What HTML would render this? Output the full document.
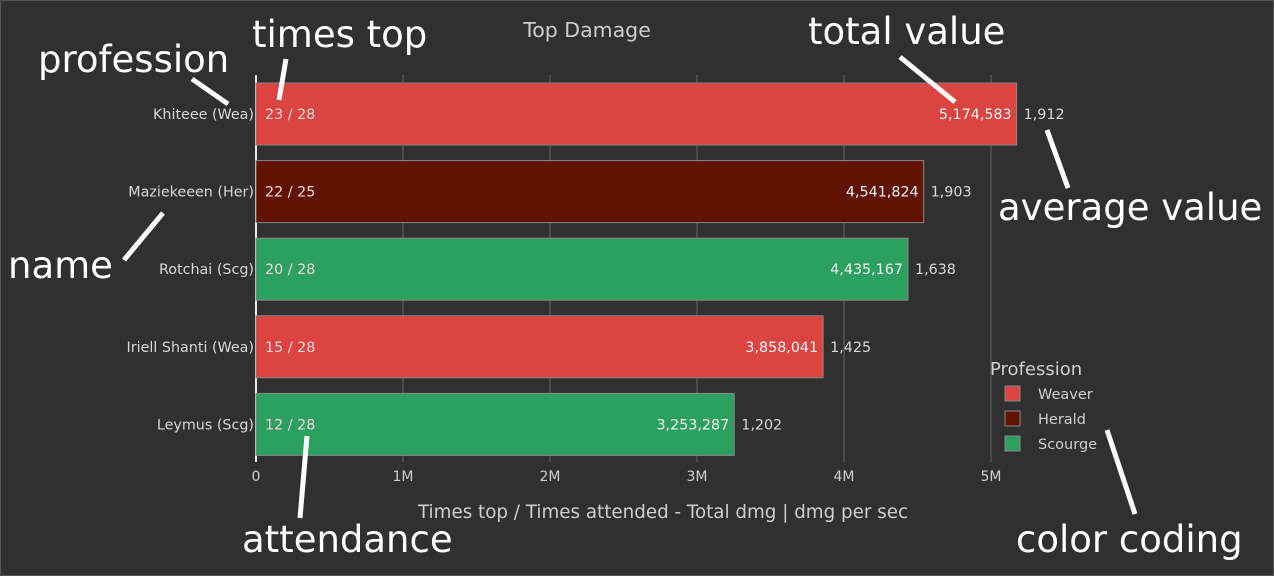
<!DOCTYPE html>
<html><head><meta charset="utf-8"><style>
html,body{margin:0;padding:0;background:#303030;}
svg{display:block;font-family:"DejaVu Sans","Liberation Sans",sans-serif;}
</style></head><body>
<svg id="c" width="1274" height="576">
<rect x="0" y="0" width="1274" height="576" fill="#303030" stroke="#555" stroke-width="2"/>
<text x="587" y="37" fill="#cfcfcf" font-size="20.5" text-anchor="middle">Top Damage</text>
<g id="grid"></g><g id="bars"></g><g id="ticks"></g>
<text x="663" y="518" fill="#cfcfcf" font-size="18.3" text-anchor="middle">Times top / Times attended - Total dmg | dmg per sec</text>
<g id="legend">
<text x="990" y="375" fill="#cfcfcf" font-size="18">Profession</text>
</g>
<g fill="#fff" font-size="37" stroke-linecap="butt">
<text x="38" y="72">profession</text>
<text x="252" y="47">times top</text>
<text x="808" y="44">total value</text>
<text x="998" y="220">average value</text>
<text x="8" y="278">name</text>
<text x="242" y="552">attendance</text>
<text x="1016" y="552">color coding</text>
<line x1="192" y1="79" x2="228" y2="104" stroke="#fff" stroke-width="5"/>
<line x1="286" y1="59" x2="279" y2="100" stroke="#fff" stroke-width="5"/>
<line x1="900" y1="57" x2="955" y2="102" stroke="#fff" stroke-width="5"/>
<line x1="1047" y1="130" x2="1068" y2="188" stroke="#fff" stroke-width="5"/>
<line x1="163" y1="213" x2="124" y2="260" stroke="#fff" stroke-width="5"/>
<line x1="307" y1="436" x2="300" y2="518" stroke="#fff" stroke-width="5"/>
<line x1="1107" y1="430" x2="1135" y2="514" stroke="#fff" stroke-width="5"/>
</g>
</svg>
<script>
const names=["Khiteee (Wea)","Maziekeeen (Her)","Rotchai (Scg)","Iriell Shanti (Wea)","Leymus (Scg)"];
const attendance=["23 / 28","22 / 25","20 / 28","15 / 28","12 / 28"];
const totals=[5174583,4541824,4435167,3858041,3253287];
const averages=[1912,1903,1638,1425,1202];
const profs=["Weaver","Herald","Scourge","Weaver","Scourge"];
const legendNames=["Weaver","Herald","Scourge"];
const legendColors=["#dc4441","#621200","#2ca05f"];
const tickVals=[0,1e6,2e6,3e6,4e6,5e6];
const tickLabels=["0","1M","2M","3M","4M","5M"];
const NS="http://www.w3.org/2000/svg";
const x=v=>256+v*147/1e6;
const y=i=>114+i*77.6;
function mk(t,a,p){const e=document.createElementNS(NS,t);for(const k in a)e.setAttribute(k,a[k]);p.appendChild(e);return e;}
const G=document.getElementById('grid'),B=document.getElementById('bars'),T=document.getElementById('ticks'),L=document.getElementById('legend');
tickVals.forEach((v,i)=>{
 const l=mk('line',{x1:x(v),x2:x(v),y1:75,y2:462,stroke:i==0?'#e8e8e8':'#666','stroke-width':i==0?2:1},G);
 
 
 const t=mk('text',{x:x(v),y:481,fill:'#cfcfcf','font-size':14,'text-anchor':'middle'},T);t.textContent=tickLabels[i];
 
 
});
const fmt=n=>n.toLocaleString('en-US');
names.forEach((n,i)=>{
 const c=legendColors[legendNames.indexOf(profs[i])];
 const cy=y(i);
 const r=mk('rect',{x:x(0),y:cy-31,width:x(totals[i])-x(0),height:62,fill:c,stroke:'#888','stroke-width':1},B);
 
 
 let t=mk('text',{x:254,y:cy+5,fill:'#d8d8d8','font-size':14.3,'text-anchor':'end'},B);t.textContent=n;
 
 
 t=mk('text',{x:265,y:cy+5,fill:'#f0d8d8','font-size':14.3},B);t.textContent=attendance[i];
 
 
 t=mk('text',{x:x(totals[i])-5,y:cy+5,fill:'#f4f4f4','font-size':14.3,'text-anchor':'end'},B);t.textContent=fmt(totals[i]);
 
 
 t=mk('text',{x:x(totals[i])+7,y:cy+5,fill:'#d8d8d8','font-size':14.3},B);t.textContent=fmt(averages[i]);
 
 
});
legendNames.forEach((n,i)=>{
 const r=mk('rect',{x:1005,y:386+i*25,width:15,height:15,fill:legendColors[i],stroke:'#888'},L);
 
 
 const t=mk('text',{x:1038,y:399+i*25,fill:'#cfcfcf','font-size':14.5},L);t.textContent=n;
 
 
});
</script>
</body></html>
